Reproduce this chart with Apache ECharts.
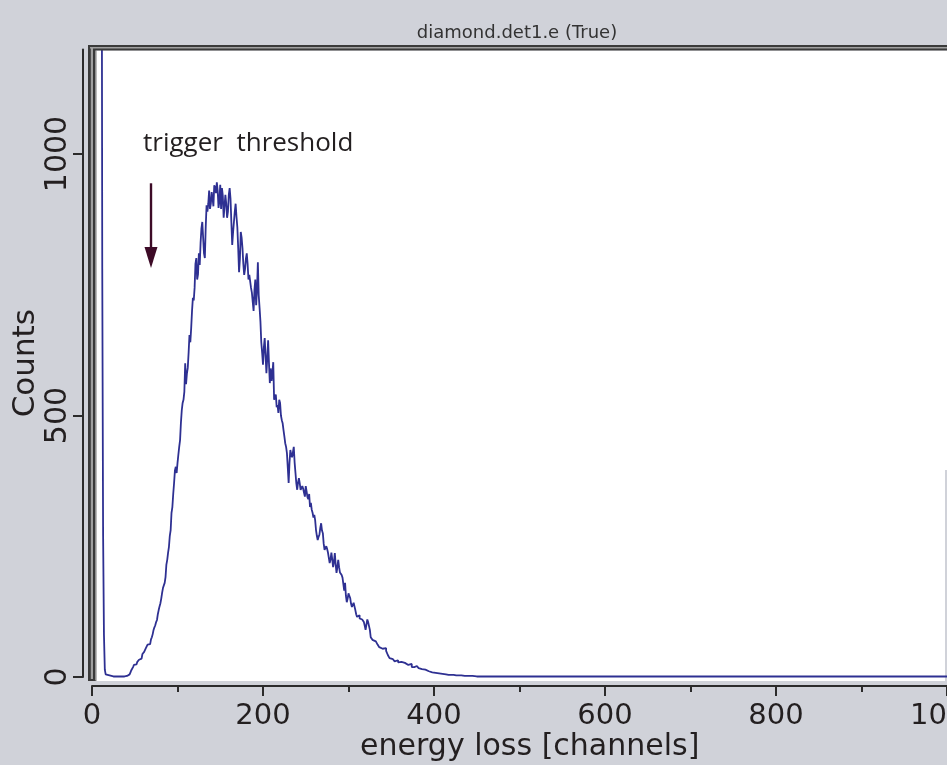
<!DOCTYPE html>
<html>
<head>
<meta charset="utf-8">
<script src="https://cdn.jsdelivr.net/npm/echarts@6/dist/echarts.min.js"></script>
<style>
html,body{margin:0;padding:0;background:#d0d2d9;}
#c{width:947px;height:765px;}
</style>
</head>
<body>
<div id="c"></div>
<script>
// Histogram channels (x) and counts (y)
var channels = [10,11,12,13,14,15,16,17,18,25,32,38,
40,41,42,43,44,45,46,47,48,49,50,51,52,53,54,55,56,57,58,59,
60,61,62,63,64,65,66,67,68,69,70,71,72,73,74,75,76,77,78,79,
80,81,82,83,84,85,86,87,88,89,90,91,92,93,94,95,96,97,98,99,
100,101,102,103,104,105,106,107,108,109,110,111,112,113,114,115,116,117,118,119,
120,121,122,123,124,125,126,127,128,129,130,131,132,133,134,135,136,137,138,139,
140,141,142,143,144,145,146,147,148,149,150,151,152,153,154,155,156,157,158,159,
160,161,162,163,164,165,166,167,168,169,170,171,172,173,174,175,176,177,178,179,
180,181,182,183,184,185,186,187,188,189,190,191,192,193,194,195,196,197,198,199,
200,201,202,203,204,205,206,207,208,209,210,211,212,213,215,216,217,218,219,
220,221,222,223,224,225,226,227,228,229,230,231,232,233,234,235,236,237,238,239,
240,241,242,243,244,245,246,247,248,249,250,251,252,253,254,255,256,257,258,259,
260,261,262,263,264,265,266,267,268,269,270,271,272,273,274,275,276,277,278,279,
280,281,282,283,284,285,286,287,288,289,290,291,292,293,294,295,296,297,298,299,
300,301,302,303,304,305,306,307,308,309,310,311,312,313,314,315,316,317,318,319,
320,321,322,323,324,325,326,327,328,330,332,334,336,338,
340,342,344,346,348,350,352,354,356,358,360,362,364,366,368,370,372,374,377,
380,382,384,386,388,390,392,394,396,398,400,402,404,406,408,410,412,414,417,
420,423,426,429,432,436,440,445,450,1024];
var counts = [3000,3000,780,270,80,14,5,2,1,1,1,1,
2,3,4,5,6,9,13,15,19,23,22,24,27,29,30,33,32,35,38,44,
46,48,50,55,57,62,60,63,65,72,76,82,90,95,99,105,109,120,128,135,
141,150,161,170,172,180,191,215,224,238,249,270,281,314,325,350,371,395,402,390,
409,425,440,453,486,510,524,530,545,600,560,580,591,620,654,640,667,700,725,720,
744,790,801,760,770,810,788,830,858,870,840,810,801,860,902,890,905,930,895,905,
927,915,900,940,935,925,946,930,897,910,941,895,935,920,878,900,922,905,878,890,
922,935,915,870,826,850,870,890,905,880,860,820,774,800,851,840,820,790,769,780,
800,810,790,760,769,770,744,735,717,700,740,760,711,740,793,730,706,680,640,620,
597,630,648,648,581,610,644,600,562,590,566,580,602,530,540,516,520,505,530,
524,500,491,485,472,460,447,440,428,400,371,410,434,425,420,430,440,410,390,370,
358,372,380,370,358,355,365,360,352,345,365,355,344,340,350,325,333,320,314,305,
310,300,281,270,262,268,272,285,294,280,275,255,243,245,250,245,238,228,218,225,
238,225,210,220,237,215,199,210,224,210,200,198,195,190,192,165,180,155,143,150,
160,155,151,140,134,138,142,135,128,120,115,117,118,112,109,110,112,108,105,98,
90,100,110,105,103,90,76,73,71,68,70,62,57,54,
52,55,50,42,36,34,32,30,32,28,29,27,27,24,23,21,25,19,21,
19,17,15,13,14,12,11,10,9,8,8,9,7,6,6,5,5,4,4,
4,3,3,3,2,2,2,1,1,1];
var xTicks = [0,200,400,600,800,1000];
var yTicks = [0,500,1000];
var thresholdChannel = 69;
var arrowTop = 944, arrowEnd = 802;

var data = channels.map(function(c,i){return [c, counts[i]];});
var FONT = 'DejaVu Sans';
var INK = '#231f20';
var AX = '#2b2b2b';

var chart = echarts.init(document.getElementById('c'), null, {renderer:'canvas'});
chart.setOption({
  backgroundColor:'#d0d2d9',
  animation:false,
  grid:{left:92, right:-20.5, top:49.4, bottom:88, containLabel:false, outerBoundsMode:'none'},
  xAxis:{
    type:'value', min:0, max:1024, interval:200, offset:9,
    axisLine:{show:true, onZero:false, lineStyle:{color:AX, width:2}},
    axisTick:{show:true, length:10, lineStyle:{color:AX, width:2}},
    minorTick:{show:true, splitNumber:2, length:6, lineStyle:{color:AX, width:2}},
    splitLine:{show:false},
    axisLabel:{fontFamily:FONT, fontSize:29, color:INK, margin:16, hideOverlap:false,
      formatter:function(v){return xTicks.indexOf(v)>=0 ? String(v) : '';}},
    name:'energy loss [channels]', nameLocation:'middle', nameGap:46, nameMoveOverlap:false,
    nameTextStyle:{fontFamily:FONT, fontSize:30, color:INK}
  },
  yAxis:{
    type:'value', min:0, max:1200, interval:500, offset:9,
    axisLine:{show:true, onZero:false, lineStyle:{color:AX, width:2}},
    axisTick:{show:true, length:10, customValues:yTicks, lineStyle:{color:AX, width:2}},
    splitLine:{show:false},
    axisLabel:{fontFamily:FONT, fontSize:30, color:INK, rotate:90, margin:10, customValues:yTicks,
      formatter:function(v){return String(v);}},
    name:'Counts', nameLocation:'middle', nameGap:42, nameRotate:90, nameMoveOverlap:false,
    nameTextStyle:{fontFamily:FONT, fontSize:31, color:INK}
  },
  graphic:[
    {type:'rect', z:-10, silent:true, shape:{x:96, y:50.5, width:851, height:630.5}, style:{fill:'#ffffff'}},
    {type:'rect', z:-9, silent:true, shape:{x:945, y:470, width:2, height:211}, style:{fill:'#d0d2d9'}},
    {type:'rect', z:50, silent:true, shape:{x:88, y:45, width:859, height:5.5}, style:{fill:'#3a3a3a'}},
    {type:'rect', z:51, silent:true, shape:{x:90, y:47, width:857, height:1.4}, style:{fill:'#a0a0a0'}},
    {type:'rect', z:50, silent:true, shape:{x:88, y:45, width:8.3, height:636}, style:{fill:'#3a3a3a'}},
    {type:'rect', z:51, silent:true, shape:{x:90.8, y:47, width:2.2, height:632}, style:{fill:'#a0a0a0'}},
    {type:'rect', z:51, silent:true, shape:{x:95.3, y:50.5, width:1.2, height:630}, style:{fill:'#b4b4b4'}},
    {type:'text', z:60, silent:true, x:517, y:33, style:{text:'diamond.det1.e (True)', fontFamily:FONT, fontSize:18, fill:'#333333', align:'center', verticalAlign:'middle'}},
    {type:'text', z:60, silent:true, x:143, y:144, style:{text:'trigger  threshold', fontFamily:'Open Sans', fontSize:26, fill:INK, align:'left', verticalAlign:'middle'}}
  ],
  series:[{
    type:'line', step:'end', data:data, showSymbol:false, symbol:'none', clip:true,
    lineStyle:{color:'#2e3092', width:1.8},
    markLine:{
      silent:true, symbol:['none','triangle'], symbolSize:[13,21],
      label:{show:false},
      lineStyle:{color:'#3d0b27', width:2.4, type:'solid'},
      emphasis:{disabled:true},
      data:[[{coord:[thresholdChannel, arrowTop]},{coord:[thresholdChannel, arrowEnd]}]]
    }
  }]
});
</script>
</body>
</html>
